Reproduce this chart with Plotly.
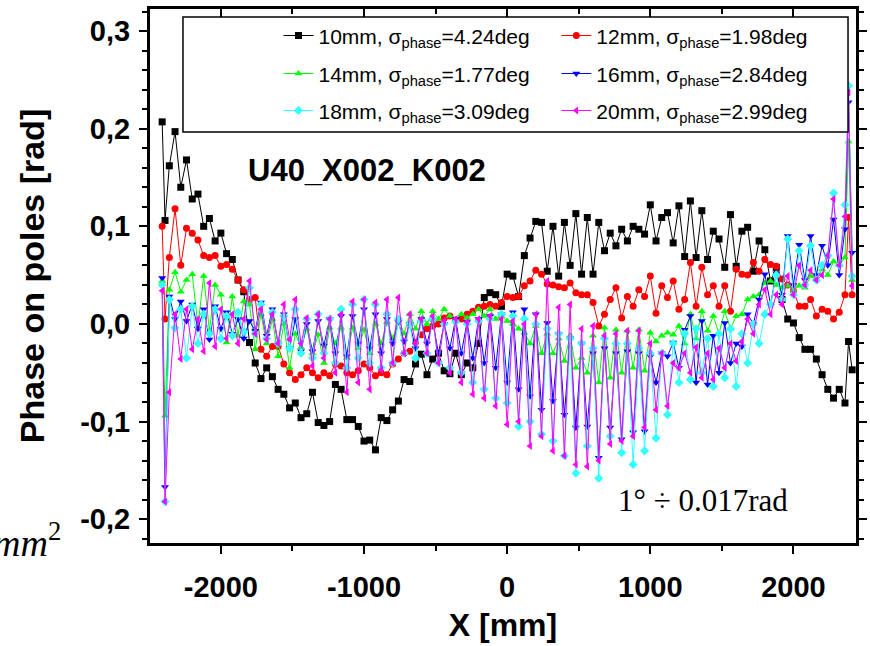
import plotly.graph_objects as go

# measurement positions (mm)
X = [-2410, -2390] + list(range(-2360, 2361, 40)) + [2385, 2410]

Y_10 = [0.207, 0.106, 0.162, 0.197, 0.140, 0.168, 0.128, 0.133, 0.100, 0.108,
        0.085, 0.093, 0.072, 0.066, 0.045, 0.033, -0.019, -0.040, -0.056, -0.045,
        -0.054, -0.067, -0.072, -0.086, -0.081, -0.096, -0.092, -0.070, -0.101, -0.104,
        -0.100, -0.062, -0.067, -0.098, -0.098, -0.105, -0.120, -0.119, -0.129, -0.096,
        -0.099, -0.088, -0.079, -0.057, -0.059, -0.041, -0.031, -0.052, -0.036, -0.030,
        -0.048, -0.051, -0.030, -0.052, -0.040, -0.045, -0.020, 0.027, 0.032, 0.030,
        0.018, 0.051, 0.049, 0.028, 0.070, 0.088, 0.105, 0.104, 0.054, 0.100,
        0.049, 0.104, 0.060, 0.113, 0.051, 0.109, 0.051, 0.104, 0.075, 0.093,
        0.080, 0.097, 0.085, 0.100, 0.097, 0.092, 0.122, 0.085, 0.109, 0.114,
        0.083, 0.121, 0.069, 0.126, 0.068, 0.116, 0.066, 0.095, 0.087, 0.058,
        0.112, 0.059, 0.095, 0.099, 0.054, 0.085, 0.076, 0.044, 0.058, 0.025,
        0.005, 0.001, -0.014, -0.026, -0.026, -0.036, -0.052, -0.067, -0.076, -0.067,
        -0.081, -0.018, -0.047]

Y_12 = [0.100, 0.005, 0.068, 0.118, 0.060, 0.098, 0.093, 0.086, 0.070, 0.068,
        0.070, 0.059, 0.061, 0.056, 0.045, 0.035, 0.025, 0.027, -0.026, -0.033,
        -0.023, -0.023, -0.041, -0.050, -0.057, -0.052, -0.045, -0.050, -0.055, -0.050,
        -0.053, -0.041, -0.043, -0.050, -0.052, -0.048, -0.041, -0.045, -0.053, -0.050,
        -0.052, -0.041, -0.036, -0.030, -0.028, -0.019, -0.011, -0.005, -0.002, 0.000,
        0.006, 0.008, 0.004, 0.005, 0.010, 0.013, 0.017, 0.018, 0.020, 0.018,
        0.022, 0.028, 0.027, 0.028, 0.039, 0.044, 0.055, 0.051, 0.041, 0.040,
        0.038, 0.037, 0.042, 0.032, 0.030, 0.030, 0.022, -0.002, 0.010, 0.025,
        0.037, 0.006, 0.028, 0.018, 0.035, 0.028, 0.049, 0.011, 0.039, 0.027,
        0.044, 0.015, 0.025, 0.063, 0.018, 0.058, 0.030, 0.039, 0.018, 0.039,
        0.013, 0.056, 0.051, 0.050, 0.063, 0.054, 0.066, 0.061, 0.059, 0.046,
        0.040, 0.034, 0.018, 0.018, 0.025, 0.008, 0.015, 0.013, 0.005, 0.012,
        0.030, 0.109, 0.030]

Y_14 = [0.044, -0.094, 0.035, 0.053, 0.033, 0.045, 0.051, -0.002, 0.049, -0.007,
        0.040, 0.030, -0.019, 0.028, -0.012, 0.023, 0.020, -0.026, 0.010, -0.020,
        0.005, -0.033, 0.000, -0.045, -0.010, -0.024, -0.005, -0.030, -0.011, -0.040,
        -0.004, -0.020, -0.004, -0.035, -0.004, -0.025, -0.006, -0.030, 0.000, -0.020,
        0.002, -0.015, 0.005, -0.010, 0.010, -0.005, 0.013, 0.000, 0.013, 0.005,
        0.015, 0.008, 0.005, 0.010, 0.006, 0.010, 0.015, 0.008, 0.015, 0.005,
        0.008, 0.003, 0.000, -0.005, -0.009, -0.020, -0.002, -0.030, -0.010, -0.030,
        -0.015, -0.038, -0.012, -0.045, -0.035, -0.050, -0.012, -0.060, -0.004, -0.055,
        -0.006, -0.050, -0.007, -0.045, -0.006, -0.048, -0.009, -0.018, -0.012, -0.009,
        -0.011, -0.002, -0.020, 0.010, -0.015, 0.013, -0.007, 0.008, -0.010, 0.013,
        -0.005, 0.008, 0.010, 0.025, 0.028, 0.030, 0.042, 0.044, 0.040, 0.037,
        0.039, 0.035, 0.039, 0.037, 0.049, 0.045, 0.056, 0.050, 0.064, 0.060,
        0.068, 0.187, 0.045]

Y_16 = [0.047, -0.167, 0.028, 0.005, 0.023, 0.003, 0.020, -0.005, 0.015, -0.016,
        0.018, -0.005, 0.012, -0.010, 0.005, -0.015, 0.003, -0.007, 0.022, -0.012,
        0.015, -0.020, 0.010, -0.025, 0.005, -0.028, 0.000, -0.028, 0.003, -0.022,
        0.005, -0.030, 0.008, -0.033, 0.008, -0.020, 0.015, -0.025, 0.010, -0.030,
        0.005, -0.020, 0.002, -0.018, 0.000, -0.025, 0.005, -0.020, 0.003, -0.030,
        0.000, -0.025, 0.005, -0.030, 0.002, -0.035, 0.005, -0.040, 0.008, -0.045,
        0.010, -0.060, 0.012, -0.067, 0.015, -0.074, 0.010, -0.088, 0.001, -0.079,
        -0.010, -0.093, -0.015, -0.106, -0.020, -0.105, -0.030, -0.137, -0.025, -0.106,
        -0.030, -0.118, -0.028, -0.111, -0.030, -0.110, -0.033, -0.060, -0.030, -0.033,
        -0.019, -0.045, -0.006, 0.008, -0.060, 0.003, -0.062, -0.012, -0.050, 0.001,
        -0.040, -0.020, -0.023, 0.010, 0.000, 0.025, 0.051, 0.020, 0.052, 0.030,
        0.090, 0.040, 0.081, 0.045, 0.090, 0.050, 0.080, 0.060, 0.107, 0.050,
        0.097, 0.227, 0.073]

Y_18 = [0.040, -0.182, 0.025, -0.004, 0.015, -0.035, 0.018, -0.020, 0.010, -0.010,
        0.015, -0.015, 0.008, -0.012, 0.012, -0.008, 0.037, -0.010, 0.020, -0.015,
        0.012, -0.020, 0.008, -0.025, 0.015, -0.030, 0.005, -0.035, 0.010, -0.030,
        0.005, -0.040, 0.015, -0.045, 0.020, -0.035, 0.025, -0.040, 0.020, -0.045,
        0.010, -0.040, 0.005, -0.030, 0.000, -0.035, 0.003, -0.030, 0.005, -0.040,
        0.000, -0.045, 0.002, -0.050, 0.000, -0.060, 0.003, -0.067, 0.005, -0.076,
        0.010, -0.081, 0.008, -0.105, 0.005, -0.100, 0.000, -0.113, -0.005, -0.120,
        -0.010, -0.135, -0.015, -0.153, -0.020, -0.125, -0.025, -0.158, -0.015, -0.115,
        -0.020, -0.132, -0.020, -0.144, -0.025, -0.130, -0.030, -0.117, -0.030, -0.093,
        -0.020, -0.060, -0.010, -0.057, -0.005, -0.050, -0.015, -0.064, -0.010, -0.055,
        -0.005, -0.064, -0.010, -0.040, 0.000, -0.020, 0.010, 0.020, 0.050, 0.025,
        0.087, 0.030, 0.075, 0.040, 0.080, 0.045, 0.060, 0.070, 0.134, 0.060,
        0.122, 0.244, 0.049]

Y_20 = [0.034, -0.182, -0.070, 0.010, -0.036, 0.015, -0.026, 0.005, -0.028, 0.042,
        -0.023, 0.015, -0.015, 0.010, -0.020, 0.005, 0.044, -0.010, 0.015, -0.016,
        0.010, -0.020, 0.020, -0.016, 0.025, -0.020, 0.006, -0.043, 0.010, -0.035,
        0.005, -0.050, 0.010, -0.070, 0.023, -0.060, 0.025, -0.067, 0.022, -0.047,
        0.025, -0.040, 0.027, -0.030, 0.010, -0.020, 0.005, -0.030, 0.008, -0.040,
        0.003, -0.050, 0.005, -0.060, 0.002, -0.072, 0.005, -0.076, 0.008, -0.084,
        0.005, -0.103, 0.003, -0.100, 0.000, -0.125, 0.010, -0.115, 0.044, -0.130,
        0.017, -0.135, 0.020, -0.144, -0.005, -0.146, -0.002, -0.140, -0.012, -0.123,
        -0.010, -0.120, -0.007, -0.115, -0.007, -0.106, -0.020, -0.088, -0.030, -0.084,
        -0.040, -0.045, -0.030, -0.050, -0.024, -0.055, -0.030, -0.057, -0.025, -0.045,
        -0.020, -0.038, -0.018, 0.005, -0.010, 0.020, 0.035, 0.010, 0.030, 0.020,
        0.049, 0.030, 0.060, 0.040, 0.055, 0.045, 0.050, 0.070, 0.128, 0.060,
        0.110, 0.237, 0.039]

NAMES = ["10mm", "12mm", "14mm", "16mm", "18mm", "20mm"]
SIGMAS = ["4.24", "1.98", "1.77", "2.84", "3.09", "2.99"]
SERIES = [Y_10, Y_12, Y_14, Y_16, Y_18, Y_20]
COLORS = ["#000000", "#FF0000", "#00FF00", "#0000FF", "#33FFFF", "#FF00FF"]
SYMBOLS = ["square", "circle", "triangle-up", "triangle-down", "diamond", "triangle-left"]

X_TICKS = [-2000, -1000, 0, 1000, 2000]
X_LABELS = ["-2000", "-1000", "0", "1000", "2000"]
Y_TICKS = [-0.2, -0.1, 0.0, 0.1, 0.2, 0.3]
Y_LABELS = ["-0,2", "-0,1", "0,0", "0,1", "0,2", "0,3"]
X_RANGE = [-2495, 2437]
Y_RANGE = [-0.2244, 0.3226]

for s in SERIES:
    assert len(s) == len(X), len(s)

LEG_IDS = ["legend", "legend2", "legend3", "legend4", "legend5", "legend6"]
LEG_X = [0.182, 0.5755]
LEG_Y = [0.9497, 0.8785, 0.8092]

fig = go.Figure()
for i, (name, sig, ys, col, sym) in enumerate(zip(NAMES, SIGMAS, SERIES, COLORS, SYMBOLS)):
    fig.add_trace(go.Scatter(
        x=X, y=ys, mode="lines+markers",
        name=f"{name}, σ<sub>phase</sub>=" + sig + "deg",
        line=dict(color=col, width=1),
        marker=dict(symbol=sym, size=7, color=col, line=dict(width=0)),
        legend=LEG_IDS[i],
    ))
# empty helper trace so the top axis (inside ticks) is drawn
fig.add_trace(go.Scatter(x=[], y=[], xaxis="x2", yaxis="y", showlegend=False, hoverinfo="skip"))

FONT = "Liberation Sans, Arial, sans-serif"
legends = {}
for i, lid in enumerate(LEG_IDS):
    legends[lid] = dict(x=LEG_X[i % 2], y=LEG_Y[i // 2], xanchor="left", yanchor="middle",
                        orientation="v", bgcolor="rgba(0,0,0,0)", borderwidth=0,
                        font=dict(family=FONT, size=21, color="black"))

fig.update_layout(
    width=870, height=646,
    margin=dict(l=150, r=14, t=9, b=103, autoexpand=False),
    paper_bgcolor="white", plot_bgcolor="white",
    showlegend=True,
    **legends,
    xaxis=dict(range=X_RANGE, tickvals=X_TICKS, ticktext=X_LABELS, automargin=False,
               showline=True, linewidth=3, linecolor="black", mirror=True,
               ticks="outside", ticklen=8, tickwidth=2, tickcolor="black",
               minor=dict(dtick=500, tick0=0, ticks="outside", ticklen=5, tickwidth=2, tickcolor="black"),
               showgrid=False, zeroline=False, ticklabelstandoff=8,
               tickfont=dict(family=FONT, size=29, color="black", weight="bold"),
               title=dict(text="<b>X [mm]</b>", font=dict(family=FONT, size=32, color="black"), standoff=12)),
    xaxis2=dict(range=X_RANGE, overlaying="x", side="top", automargin=False,
                tickvals=X_TICKS, showticklabels=False, showline=False,
                ticks="inside", ticklen=8, tickwidth=2, tickcolor="black",
                minor=dict(dtick=500, tick0=0, ticks="inside", ticklen=5, tickwidth=2, tickcolor="black"),
                showgrid=False, zeroline=False),
    yaxis=dict(range=Y_RANGE, tickvals=Y_TICKS, ticktext=Y_LABELS, automargin=False,
               showline=True, linewidth=3, linecolor="black", mirror="ticks",
               ticks="outside", ticklen=8, tickwidth=2, tickcolor="black",
               minor=dict(dtick=0.02, tick0=0, ticks="outside", ticklen=5, tickwidth=2, tickcolor="black"),
               showgrid=False, zeroline=False, ticklabelstandoff=3,
               tickfont=dict(family=FONT, size=29, color="black", weight="bold"),
               title=dict(text="<b>Phase on poles [rad]</b>", font=dict(family=FONT, size=34, color="black"), standoff=26)),
    shapes=[dict(type="rect", xref="paper", yref="paper", x0=0.0467, x1=0.9887, y0=0.7697, y1=0.985,
                 line=dict(color="black", width=1.5), fillcolor="white", layer="above")],
    annotations=[
        dict(text="<b>U40_X002_K002</b>", xref="paper", yref="paper", x=0.307, y=0.698,
             xanchor="center", yanchor="middle",
             showarrow=False, font=dict(family=FONT, size=31, color="black")),
        dict(text="1° ÷ 0.017rad", xref="paper", yref="paper", x=0.783, y=0.0787,
             xanchor="center", yanchor="middle",
             showarrow=False, font=dict(family="Liberation Serif, serif", size=31, color="black")),
        dict(text="<i>mm</i><sup>2</sup>", xref="paper", yref="paper", x=-0.123, y=0.0056,
             xanchor="right", yanchor="middle", showarrow=False,
             font=dict(family="Liberation Serif, serif", size=38, color="black")),
    ],
)

fig.write_html("out.html")
